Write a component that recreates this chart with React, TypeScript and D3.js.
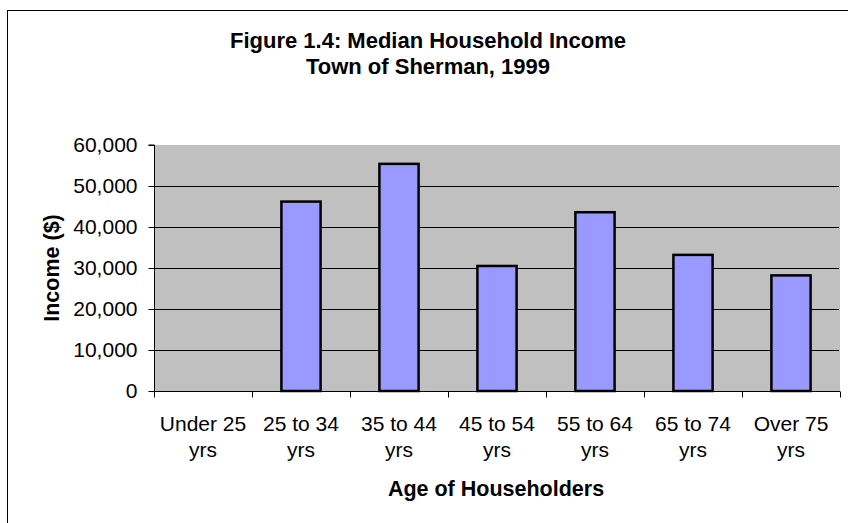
import React, { useEffect, useRef } from "react";
import * as d3 from "d3";

// chart data
const categories = ["Under 25 yrs", "25 to 34 yrs", "35 to 44 yrs", "45 to 54 yrs", "55 to 64 yrs", "65 to 74 yrs", "Over 75 yrs"];
const incomes = [0, 46200, 55400, 30500, 43600, 33200, 28200];
const yTicks = [0, 10000, 20000, 30000, 40000, 50000, 60000];
const titleLines = ["Figure 1.4: Median Household Income", "Town of Sherman, 1999"];

const App = () => {
    const svgRef = useRef<SVGSVGElement>(null);

    useEffect(() => {
        const plot = { left: 154, top: 145, right: 840, bottom: 391 };
        const font = "'Liberation Sans', Arial, sans-serif";

        const svg = d3.select(svgRef.current);
        svg.selectAll("*").remove();

        // outer chart border (runs off the right/bottom of the picture)
        svg.append("rect")
            .attr("x", 7.5).attr("y", 10.5)
            .attr("width", 860).attr("height", 530)
            .attr("fill", "#fff").attr("stroke", "#000").attr("stroke-width", 1);

        // title
        const title = svg.append("text")
            .attr("text-anchor", "middle")
            .attr("font-family", font).attr("font-size", 22).attr("font-weight", "bold");
        titleLines.forEach((t, i) => {
            title.append("tspan").attr("x", 428).attr("y", 48 + i * 26).text(t);
        });

        const x = d3.scaleBand().domain(categories).range([plot.left, plot.right]).paddingInner(0).paddingOuter(0);
        const y = d3.scaleLinear().domain([0, 60000]).range([plot.bottom, plot.top]);

        // plot area
        svg.append("rect")
            .attr("x", plot.left).attr("y", plot.top)
            .attr("width", plot.right - plot.left).attr("height", plot.bottom - plot.top)
            .attr("fill", "#c0c0c0");

        // gridlines
        svg.append("g")
            .selectAll("line")
            .data(yTicks.filter(d => d > 0 && d < 60000))
            .enter()
            .append("line")
            .attr("x1", plot.left).attr("x2", plot.right - 1)
            .attr("y1", d => Math.round(y(d)) + 0.5).attr("y2", d => Math.round(y(d)) + 0.5)
            .attr("stroke", "#000").attr("stroke-width", 1);

        // bars
        const bw = x.bandwidth() * 0.4;
        svg.append("g")
            .selectAll("rect")
            .data(categories.map((c, i) => ({ c, v: incomes[i] })).filter(d => d.v > 0))
            .enter()
            .append("rect")
            .attr("x", d => x(d.c)! + (x.bandwidth() - bw) / 2)
            .attr("y", d => y(d.v))
            .attr("width", bw)
            .attr("height", d => y(0) - y(d.v))
            .attr("fill", "#9999ff")
            .attr("stroke", "#000").attr("stroke-width", 2.5);

        // y axis
        const yAxis = d3.axisLeft(y).tickValues(yTicks).tickSize(6).tickPadding(11).tickFormat(d3.format(","));
        const gy = svg.append("g").attr("transform", `translate(${plot.left + 0.5},0)`).call(yAxis);
        gy.select(".domain").attr("d", `M-6,${plot.top}H0V${plot.bottom}`);
        gy.selectAll("text").attr("font-family", font).attr("font-size", 21).attr("fill", "#000");

        // x axis
        const gx = svg.append("g").attr("transform", `translate(0,${plot.bottom + 0.5})`);
        gx.append("line")
            .attr("x1", plot.left).attr("x2", plot.right)
            .attr("stroke", "#000");
        gx.selectAll("line.tick")
            .data(categories.concat(["end"]))
            .enter()
            .append("line")
            .attr("class", "tick")
            .attr("x1", (d, i) => Math.round(plot.left + i * x.step()) + 0.5)
            .attr("x2", (d, i) => Math.round(plot.left + i * x.step()) + 0.5)
            .attr("y1", 0).attr("y2", 6)
            .attr("stroke", "#000");
        const labels = gx.selectAll("text")
            .data(categories)
            .enter()
            .append("text")
            .attr("text-anchor", "middle")
            .attr("font-family", font).attr("font-size", 21);
        labels.each(function (d) {
            const parts = d.split(" ");
            const line1 = parts.slice(0, -1).join(" ");
            const line2 = parts[parts.length - 1];
            const cx = x(d)! + x.bandwidth() / 2;
            d3.select(this).append("tspan").attr("x", cx).attr("y", 39).text(line1);
            d3.select(this).append("tspan").attr("x", cx).attr("y", 65).text(line2);
        });

        // axis titles
        svg.append("text")
            .attr("x", 496).attr("y", 496)
            .attr("text-anchor", "middle")
            .attr("font-family", font).attr("font-size", 21.5).attr("font-weight", "bold")
            .text("Age of Householders");
        svg.append("text")
            .attr("transform", `translate(59,${(plot.top + plot.bottom) / 2}) rotate(-90)`)
            .attr("text-anchor", "middle")
            .attr("font-family", font).attr("font-size", 21.5).attr("font-weight", "bold")
            .text("Income ($)");
    }, []);

    return (
        <svg ref={svgRef} width={848} height={523}
            style={{ position: "absolute", left: 0, top: 0, background: "#fff" }}></svg>
    );
};

export default App;
